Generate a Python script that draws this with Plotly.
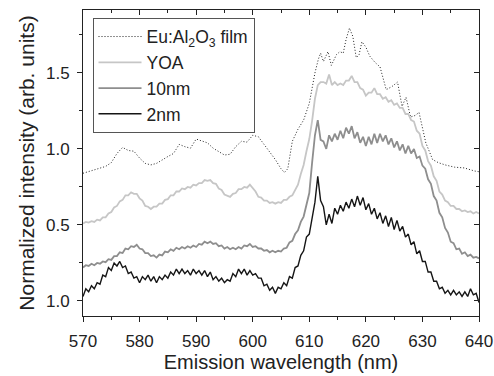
import numpy as np
import plotly.graph_objects as go

# wavelength grid (nm) for the three measured spectra
wl = np.arange(570, 640.001, 0.5)

yoa = [
    0.51, 0.52, 0.515, 0.525, 0.52, 0.535, 0.53, 0.55, 0.55, 0.575,
    0.585, 0.615, 0.625, 0.655, 0.665, 0.695, 0.695, 0.715, 0.705, 0.705,
    0.675, 0.66, 0.625, 0.62, 0.605, 0.62, 0.62, 0.64, 0.64, 0.665,
    0.67, 0.695, 0.695, 0.72, 0.72, 0.74, 0.735, 0.75, 0.745, 0.765,
    0.76, 0.775, 0.775, 0.795, 0.79, 0.795, 0.775, 0.77, 0.74, 0.73,
    0.70, 0.695, 0.685, 0.705, 0.71, 0.735, 0.735, 0.75, 0.745, 0.765,
    0.74, 0.72, 0.685, 0.68, 0.66, 0.66, 0.645, 0.65, 0.64, 0.65,
    0.645, 0.665, 0.665, 0.685, 0.695, 0.735, 0.765, 0.835, 0.895, 0.985,
    1.065, 1.185, 1.33, 1.42, 1.44, 1.44, 1.43, 1.49, 1.42, 1.44,
    1.42, 1.43, 1.42, 1.45, 1.45, 1.48, 1.44, 1.44, 1.40, 1.39,
    1.35, 1.37, 1.37, 1.40, 1.36, 1.36, 1.33, 1.34, 1.31, 1.32,
    1.29, 1.30, 1.27, 1.27, 1.23, 1.23, 1.19, 1.18, 1.12, 1.10,
    1.02, 0.99, 0.92, 0.89, 0.82, 0.79, 0.72, 0.70, 0.66, 0.65,
    0.625, 0.625, 0.605, 0.605, 0.59, 0.595, 0.585, 0.59, 0.575, 0.585,
    0.575,
]

nm10 = [
    0.22, 0.235, 0.23, 0.245, 0.235, 0.25, 0.245, 0.26, 0.255, 0.275,
    0.27, 0.295, 0.295, 0.32, 0.315, 0.345, 0.34, 0.36, 0.355, 0.37,
    0.345, 0.34, 0.315, 0.315, 0.295, 0.30, 0.285, 0.305, 0.30, 0.325,
    0.32, 0.34, 0.33, 0.35, 0.34, 0.355, 0.345, 0.36, 0.35, 0.365,
    0.355, 0.375, 0.37, 0.39, 0.38, 0.39, 0.375, 0.38, 0.36, 0.365,
    0.345, 0.355, 0.34, 0.35, 0.34, 0.355, 0.345, 0.365, 0.36, 0.375,
    0.355, 0.36, 0.345, 0.345, 0.33, 0.335, 0.32, 0.33, 0.32, 0.33,
    0.325, 0.345, 0.35, 0.385, 0.395, 0.44, 0.465, 0.52, 0.555, 0.63,
    0.71, 0.91, 1.09, 1.19, 1.06, 1.05, 1.00, 1.09, 1.05, 1.10,
    1.06, 1.12, 1.07, 1.14, 1.10, 1.15, 1.07, 1.11, 1.04, 1.08,
    1.02, 1.08, 1.03, 1.10, 1.04, 1.10, 1.05, 1.09, 1.03, 1.07,
    1.01, 1.05, 0.99, 1.03, 0.97, 1.02, 0.97, 1.00, 0.94, 0.95,
    0.89, 0.87, 0.80, 0.77, 0.69, 0.66, 0.58, 0.55, 0.48, 0.45,
    0.39, 0.38, 0.34, 0.345, 0.31, 0.32, 0.295, 0.305, 0.285, 0.29,
    0.28,
]

nm2 = [
    0.03, 0.08, 0.06, 0.10, 0.08, 0.12, 0.11, 0.17, 0.16, 0.22,
    0.20, 0.25, 0.23, 0.26, 0.22, 0.23, 0.18, 0.19, 0.15, 0.16,
    0.12, 0.16, 0.14, 0.17, 0.13, 0.16, 0.12, 0.16, 0.14, 0.17,
    0.15, 0.19, 0.17, 0.21, 0.18, 0.21, 0.18, 0.20, 0.17, 0.21,
    0.18, 0.20, 0.17, 0.20, 0.16, 0.19, 0.14, 0.16, 0.13, 0.15,
    0.12, 0.14, 0.13, 0.18, 0.16, 0.21, 0.18, 0.21, 0.17, 0.20,
    0.17, 0.18, 0.15, 0.15, 0.10, 0.11, 0.07, 0.09, 0.05, 0.09,
    0.08, 0.12, 0.10, 0.16, 0.15, 0.22, 0.23, 0.30, 0.33, 0.42,
    0.44, 0.56, 0.65, 0.82, 0.66, 0.62, 0.50, 0.57, 0.51, 0.61,
    0.57, 0.63, 0.59, 0.65, 0.61, 0.67, 0.62, 0.69, 0.63, 0.68,
    0.60, 0.64, 0.57, 0.61, 0.54, 0.58, 0.51, 0.56, 0.49, 0.55,
    0.47, 0.53, 0.46, 0.49, 0.42, 0.44, 0.37, 0.39, 0.31, 0.33,
    0.26, 0.26, 0.19, 0.19, 0.13, 0.13, 0.08, 0.09, 0.05, 0.07,
    0.04, 0.07, 0.04, 0.06, 0.03, 0.06, 0.03, 0.08, 0.04, 0.05,
    -0.01,
]

film_wl = [570, 571, 572, 573, 574, 575, 576, 577, 578, 579, 580, 581, 582,
           583, 584, 585, 586, 587, 588, 589, 590, 591, 592, 593, 594, 595,
           596, 597, 598, 599, 600, 601, 602, 603, 604, 605, 605.6, 606.2,
           607, 608, 609, 610, 610.5, 611, 611.6, 612, 612.5, 613.3, 613.9,
           614.8, 615.4, 616, 616.5, 617.1, 617.7, 618.3, 618.8, 619.3, 620,
           620.7, 621.6, 622.5, 623.6, 624.6, 625.6, 626.4, 627.1, 627.9,
           628.7, 629.4, 630.6, 631.8, 632.8, 634, 635.7, 637.4, 639.2, 640]
film = [0.84, 0.85, 0.86, 0.87, 0.885, 0.91, 0.97, 1.01, 0.99, 0.985, 0.94,
        0.905, 0.895, 0.905, 0.93, 0.95, 0.97, 1.03, 1.015, 1.005, 1.065,
        1.05, 1.04, 1.005, 0.98, 0.96, 0.965, 1.015, 1.05, 1.045, 1.09,
        1.08, 1.03, 0.98, 0.93, 0.87, 0.845, 0.87, 1.05, 1.13, 1.19, 1.30,
        1.40, 1.50, 1.59, 1.63, 1.575, 1.64, 1.55, 1.62, 1.64, 1.63, 1.72,
        1.795, 1.74, 1.60, 1.62, 1.705, 1.67, 1.61, 1.57, 1.54, 1.39, 1.41,
        1.44, 1.28, 1.34, 1.21, 1.22, 1.24, 1.04, 0.93, 0.91, 0.895, 0.88,
        0.875, 0.855, 0.85]

names = ["Eu:Al<sub>2</sub>O<sub>3</sub> film", "YOA", "10nm", "2nm"]
ytick_vals = [0, 0.5, 1.0, 1.5]
ytick_text = ["1.0", "0.5", "1.0", "1.5"]

fig = go.Figure()
fig.add_trace(go.Scatter(x=film_wl, y=film, mode="lines", name=names[0],
                         line=dict(color="#222222", width=1, dash="1px,2px")))
fig.add_trace(go.Scatter(x=wl, y=yoa, mode="lines", name=names[1],
                         line=dict(color="#c6c6c6", width=1.8)))
fig.add_trace(go.Scatter(x=wl, y=nm10, mode="lines", name=names[2],
                         line=dict(color="#8e8e8e", width=1.8)))
fig.add_trace(go.Scatter(x=wl, y=nm2, mode="lines", name=names[3],
                         line=dict(color="#151515", width=1.4)))
# carrier for the mirrored (top/right) axes
fig.add_trace(go.Scatter(x=[], y=[], xaxis="x2", yaxis="y2", showlegend=False))

font = "Liberation Sans, Arial, sans-serif"
xr = [570, 640]
yr = [-0.099, 1.914]

fig.update_layout(
    width=494, height=376,
    margin=dict(l=83, r=15, t=10, b=60),
    paper_bgcolor="white", plot_bgcolor="white",
    font=dict(family=font, size=17, color="#222222"),
    showlegend=True,
    legend=dict(x=0.024, y=0.975, xanchor="left", yanchor="top",
                bgcolor="white", bordercolor="#555555", borderwidth=1,
                font=dict(size=17.5), tracegroupgap=0, itemwidth=43),
    xaxis=dict(range=xr, tickmode="linear", tick0=570, dtick=10,
               ticks="outside", ticklen=5, tickcolor="#222",
               showline=True, linecolor="#222", linewidth=1,
               showgrid=False, zeroline=False, automargin=False,
               tickfont=dict(size=17), ticklabeloverflow="allow",
               ticklabelstandoff=5,
               minor=dict(dtick=5, ticks="outside", ticklen=3, tickcolor="#222"),
               title=dict(text="Emission wavelength (nm)", font=dict(size=20),
                          standoff=4)),
    yaxis=dict(range=yr, tickmode="array", tickvals=ytick_vals, ticktext=ytick_text,
               ticks="outside", ticklen=5, tickcolor="#222",
               showline=True, linecolor="#222", linewidth=1,
               showgrid=False, zeroline=False, automargin=False,
               tickfont=dict(size=17), ticklabelstandoff=4,
               minor=dict(tickvals=[0.25, 0.75, 1.25, 1.75], ticks="outside",
                          ticklen=3, tickcolor="#222"),
               title=dict(text="Normalized intensity (arb. units)", font=dict(size=21),
                          standoff=5)),
    xaxis2=dict(range=xr, overlaying="x", side="top", anchor="y2",
                tickmode="linear", tick0=570, dtick=10, ticks="inside", ticklen=5,
                tickcolor="#222", showticklabels=False, showline=True,
                linecolor="#222", linewidth=1, showgrid=False, zeroline=False,
                automargin=False,
                minor=dict(dtick=5, ticks="inside", ticklen=3, tickcolor="#222")),
    yaxis2=dict(range=yr, overlaying="y", side="right", anchor="x2",
                tickmode="array", tickvals=ytick_vals, ticks="inside", ticklen=5,
                tickcolor="#222", showticklabels=False, showline=True,
                linecolor="#222", linewidth=1, showgrid=False, zeroline=False,
                automargin=False,
                minor=dict(tickvals=[0.25, 0.75, 1.25, 1.75], ticks="inside",
                           ticklen=3, tickcolor="#222")),
)

fig.write_html("out.html", config={"displayModeBar": False},
               post_script="document.body.style.margin='0px';"
                           "document.body.style.overflow='hidden';")
